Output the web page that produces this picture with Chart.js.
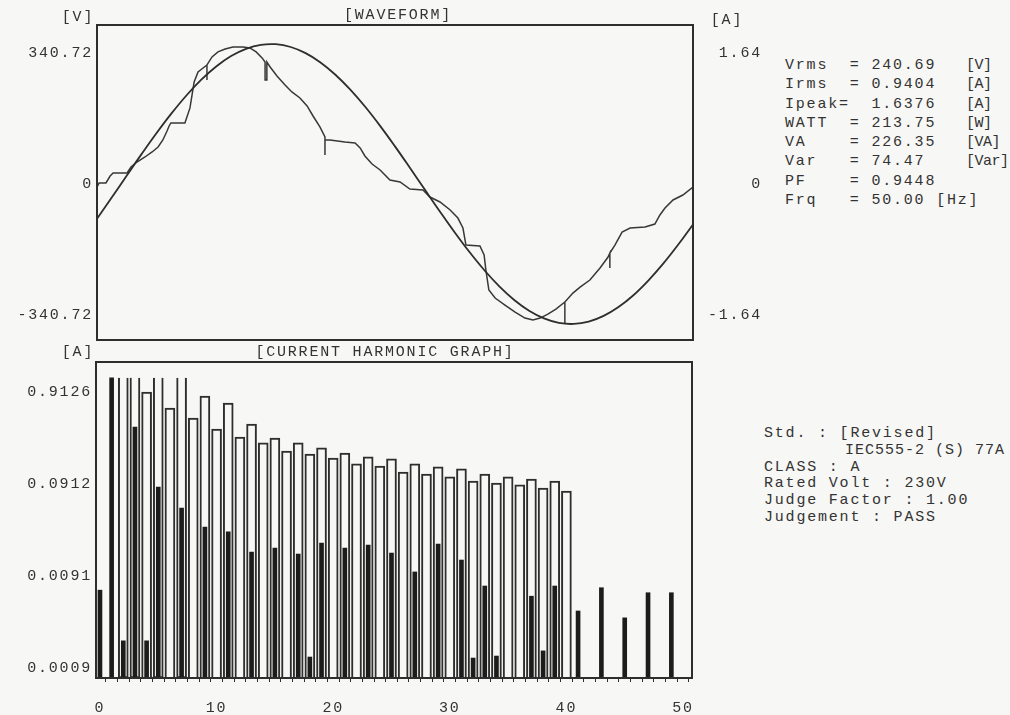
<!DOCTYPE html>
<html>
<head>
<meta charset="utf-8">
<script src="https://cdn.jsdelivr.net/npm/chart.js@4.4.1/dist/chart.umd.min.js"></script>
<style>
  body { margin:0; background:#f7f7f5; width:1010px; height:715px; overflow:hidden; position:relative;
         font-family:"Liberation Mono", monospace; color:#333; }
  canvas { position:absolute; left:0; }
  #wave { top:0; }
  #harm { top:340px; }
  .lbl { position:absolute; font-size:15px; letter-spacing:1.8px; white-space:pre; line-height:1;
         transform:translate(-50%,-50%); }
  .info { position:absolute; font-size:15px; letter-spacing:1.8px; white-space:pre; }
</style>
</head>
<body>
<canvas id="wave" width="780" height="360"></canvas>
<canvas id="harm" width="710" height="375"></canvas>

<div class="lbl" style="left:78px;top:17px">[V]</div>
<div class="lbl" style="left:398px;top:15px">[WAVEFORM]</div>
<div class="lbl" style="left:727px;top:20px">[A]</div>
<div class="lbl" style="left:78px;top:352px">[A]</div>
<div class="lbl" style="left:385px;top:352px">[CURRENT HARMONIC GRAPH]</div>

<div class="info" style="left:785px;top:56px;line-height:19.3px">Vrms  = 240.69
Irms  = 0.9404
Ipeak=  1.6376
WATT  = 213.75
VA    = 226.35
Var   = 74.47
PF    = 0.9448
Frq   = 50.00 [Hz]</div>
<div class="info" style="left:966px;top:56px;line-height:19.3px;letter-spacing:-0.5px">[V]
[A]
[A]
[W]
[VA]
[Var]</div>

<div class="info" style="left:764px;top:426px;line-height:16.8px">Std. : [Revised]

CLASS : A
Rated Volt : 230V
Judge Factor : 1.00
Judgement : PASS</div>
<div class="info" style="left:845px;top:442.8px;line-height:16.8px;letter-spacing:1px">IEC555-2 (S) 77A</div>

<script>
// 波形 (1周期 20ms)
const voltTime = [0,0.5,1,1.5,2,2.5,3,3.5,4,4.5,5,5.5,6,6.5,7,7.5,8,8.5,9,9.5,
  10,10.5,11,11.5,12,12.5,13,13.5,14,14.5,15,15.5,16,16.5,17,17.5,18,18.5,19,19.5,20];
const voltValue = [-90.5,-34.6,22.1,78.3,132.6,183.6,230.2,271.3,305.6,332.7,351.6,362.0,363.5,356.3,340.4,316.2,284.2,245.4,200.8,151.2,
  97.9,42.2,-14.5,-70.8,-125.4,-177.0,-224.3,-266.1,-301.5,-329.5,-349.6,-361.1,-363.9,-357.8,-343.0,-319.9,-289.2,-251.1,-207.2,-158.1,-105.2];

const currTime = [0,0.07,0.30,0.44,0.54,1.01,1.14,1.34,1.61,1.85,2.05,2.21,2.35,2.42,2.48,2.95,3.12,3.19,3.26,3.39,
  3.56,3.69,3.69,3.69,3.86,4.06,4.30,4.56,4.90,5.13,5.34,5.54,5.64,5.64,5.70,5.70,5.81,6.04,6.31,6.54,
  6.81,7.05,7.25,7.48,7.65,7.65,7.65,7.82,8.32,8.66,8.83,8.99,9.23,9.50,9.83,10.17,10.50,10.94,11.17,11.51,
  11.85,12.11,12.28,12.38,12.85,12.99,13.05,13.15,13.36,13.69,14.03,14.36,14.63,14.87,15.13,15.40,15.70,15.70,15.70,15.97,
  16.21,16.54,16.88,17.15,17.21,17.21,17.21,17.38,17.62,17.89,18.39,18.72,18.89,19.06,19.33,19.66,20.0];
const currValue = [-0.038,0.013,0.013,0.100,0.138,0.138,0.213,0.275,0.338,0.401,0.463,0.551,0.664,0.726,0.764,0.764,0.952,1.114,1.277,1.402,
  1.452,1.490,1.302,1.490,1.590,1.653,1.690,1.715,1.715,1.703,1.653,1.578,1.527,1.302,1.302,1.527,1.465,1.352,1.239,1.152,
  1.077,0.977,0.851,0.714,0.589,0.363,0.551,0.551,0.526,0.513,0.451,0.351,0.250,0.175,0.050,0.025,-0.063,-0.075,-0.163,-0.225,
  -0.325,-0.426,-0.551,-0.764,-0.776,-0.889,-1.077,-1.327,-1.427,-1.515,-1.603,-1.678,-1.703,-1.678,-1.628,-1.565,-1.477,-1.740,-1.477,-1.365,
  -1.290,-1.202,-1.052,-0.914,-0.864,-1.052,-0.864,-0.764,-0.601,-0.551,-0.538,-0.501,-0.388,-0.300,-0.200,-0.138,-0.038];

const voltTicks = [-340.72, 0, 340.72];
const currTicks = [-1.64, 0, 1.64];

// 高調波 (次数 0..49)
const harmOrder = [0,1,2,3,4,5,6,7,8,9,10,11,12,13,14,15,16,17,18,19,20,21,22,23,24,
  25,26,27,28,29,30,31,32,33,34,35,36,37,38,39,40,41,42,43,44,45,46,47,48,49];
const measuredA = [0.0064,1.30,0.0018,0.380,0.0018,0.0847,null,0.0500,null,0.0311,
  null,0.0275,null,0.0166,null,0.0184,null,0.0158,0.0012,0.0208,
  null,0.0184,null,0.0198,null,0.0162,null,0.0101,null,0.0203,
  null,0.0136,0.00117,0.0071,0.00123,null,null,0.0055,0.0014,0.0071,
  null,0.0038,null,0.0068,null,0.0032,null,0.0060,null,0.0060];
const limitA = [null,null,1.30,1.30,0.913,1.30,0.611,1.30,0.476,0.826,
  0.361,0.693,0.296,0.409,0.255,0.288,0.208,0.255,0.193,0.225,
  0.175,0.198,0.151,0.180,0.143,0.171,0.123,0.151,0.117,0.140,
  0.109,0.133,0.0984,0.117,0.0935,0.109,0.0891,0.103,0.0826,0.0984,
  0.0766,null,null,null,null,null,null,null,null,null];
const harmTicks = [0.0009, 0.0091, 0.0912, 0.9126];
const orderTicks = [0,1,2,3,4,5,6,7,8,9,10,11,12,13,14,15,16,17,18,19,20,21,22,23,24,25,
  26,27,28,29,30,31,32,33,34,35,36,37,38,39,40,41,42,43,44,45,46,47,48,49,50];

const INK = '#2e2e2e';
const TXT = '#333';
const tickFont = { family: 'Liberation Mono', size: 15 };

const framePlugin = {
  id: 'frame',
  beforeDraw(chart) { chart.ctx.letterSpacing = '1.8px'; },
  afterDatasetsDraw(chart) {
    const { ctx, chartArea: a } = chart;
    ctx.save();
    ctx.strokeStyle = INK;
    ctx.lineWidth = 2;
    ctx.strokeRect(a.left, a.top, a.right - a.left, a.bottom - a.top);
    ctx.restore();
  }
};

new Chart(document.getElementById('wave'), {
  type: 'line',
  data: {
    datasets: [
      { label: 'V', data: voltTime.map((t, i) => ({ x: t, y: voltValue[i] })), yAxisID: 'yV',
        borderColor: INK, borderWidth: 1.8, pointRadius: 0, tension: 0.4 },
      { label: 'A', data: currTime.map((t, i) => ({ x: t, y: currValue[i] })), yAxisID: 'yA',
        borderColor: '#383838', borderWidth: 1.5, pointRadius: 0, tension: 0 }
    ]
  },
  options: {
    responsive: false, animation: false, devicePixelRatio: 1,
    layout: { padding: { top: 25, bottom: 20, right: 18, left: 0 } },
    plugins: { legend: { display: false }, tooltip: { enabled: false } },
    scales: {
      x: { type: 'linear', min: 0, max: 20, display: false },
      yV: {
        position: 'left', min: -405.7, max: 413.5,
        grid: { display: false, drawTicks: false }, border: { display: false },
        afterBuildTicks: s => { s.ticks = voltTicks.map(v => ({ value: v })); },
        afterFit: s => { s.width = 97; },
        ticks: { padding: 4, color: TXT, font: tickFont, callback: v => String(v) }
      },
      yA: {
        position: 'right', min: -1.990 * 405.7 / 413.5, max: 1.990,
        grid: { display: false, drawTicks: false }, border: { display: false },
        afterBuildTicks: s => { s.ticks = currTicks.map(v => ({ value: v })); },
        afterFit: s => { s.width = 69; },
        ticks: { crossAlign: 'far', color: TXT, font: tickFont, callback: v => String(v) }
      }
    }
  },
  plugins: [framePlugin]
});

new Chart(document.getElementById('harm'), {
  type: 'bar',
  data: {
    datasets: [
      { label: 'measured', data: harmOrder.map((h, i) => ({ x: h, y: measuredA[i] })),
        backgroundColor: '#1c1c1c', borderWidth: 0, barThickness: 4, grouped: false },
      { label: 'limit', data: harmOrder.map((h, i) => ({ x: h, y: limitA[i] })),
        backgroundColor: '#f7f7f5', borderColor: INK, borderWidth: 2, barThickness: 10, grouped: false,
        borderSkipped: c => (c.raw && c.raw.y >= 1.3) ? 'top' : 'start' }
    ]
  },
  options: {
    responsive: false, animation: false, devicePixelRatio: 1,
    layout: { padding: { top: 22, bottom: 0, right: 18, left: 0 } },
    plugins: { legend: { display: false }, tooltip: { enabled: false } },
    scales: {
      x: {
        type: 'linear', min: -0.34, max: 50.77, offset: false,
        grid: { drawOnChartArea: false, drawTicks: true, tickLength: 4, color: INK },
        border: { color: INK, width: 2 },
        afterBuildTicks: s => { s.ticks = orderTicks.map(v => ({ value: v })); },
        afterFit: s => { s.height = 37; },
        ticks: { autoSkip: false, maxRotation: 0, padding: 17, color: TXT, font: tickFont,
                 callback: v => (v % 10 === 0 ? String(v) : '') }
      },
      y: {
        type: 'logarithmic', min: 0.000710, max: 1.934,
        grid: { display: false, drawTicks: false }, border: { display: false },
        afterBuildTicks: s => { s.ticks = harmTicks.map(v => ({ value: v })); },
        afterFit: s => { s.width = 96; },
        ticks: { padding: 4, color: TXT, font: tickFont, callback: v => v.toFixed(4) }
      }
    }
  },
  plugins: [framePlugin]
});
</script>
</body>
</html>
